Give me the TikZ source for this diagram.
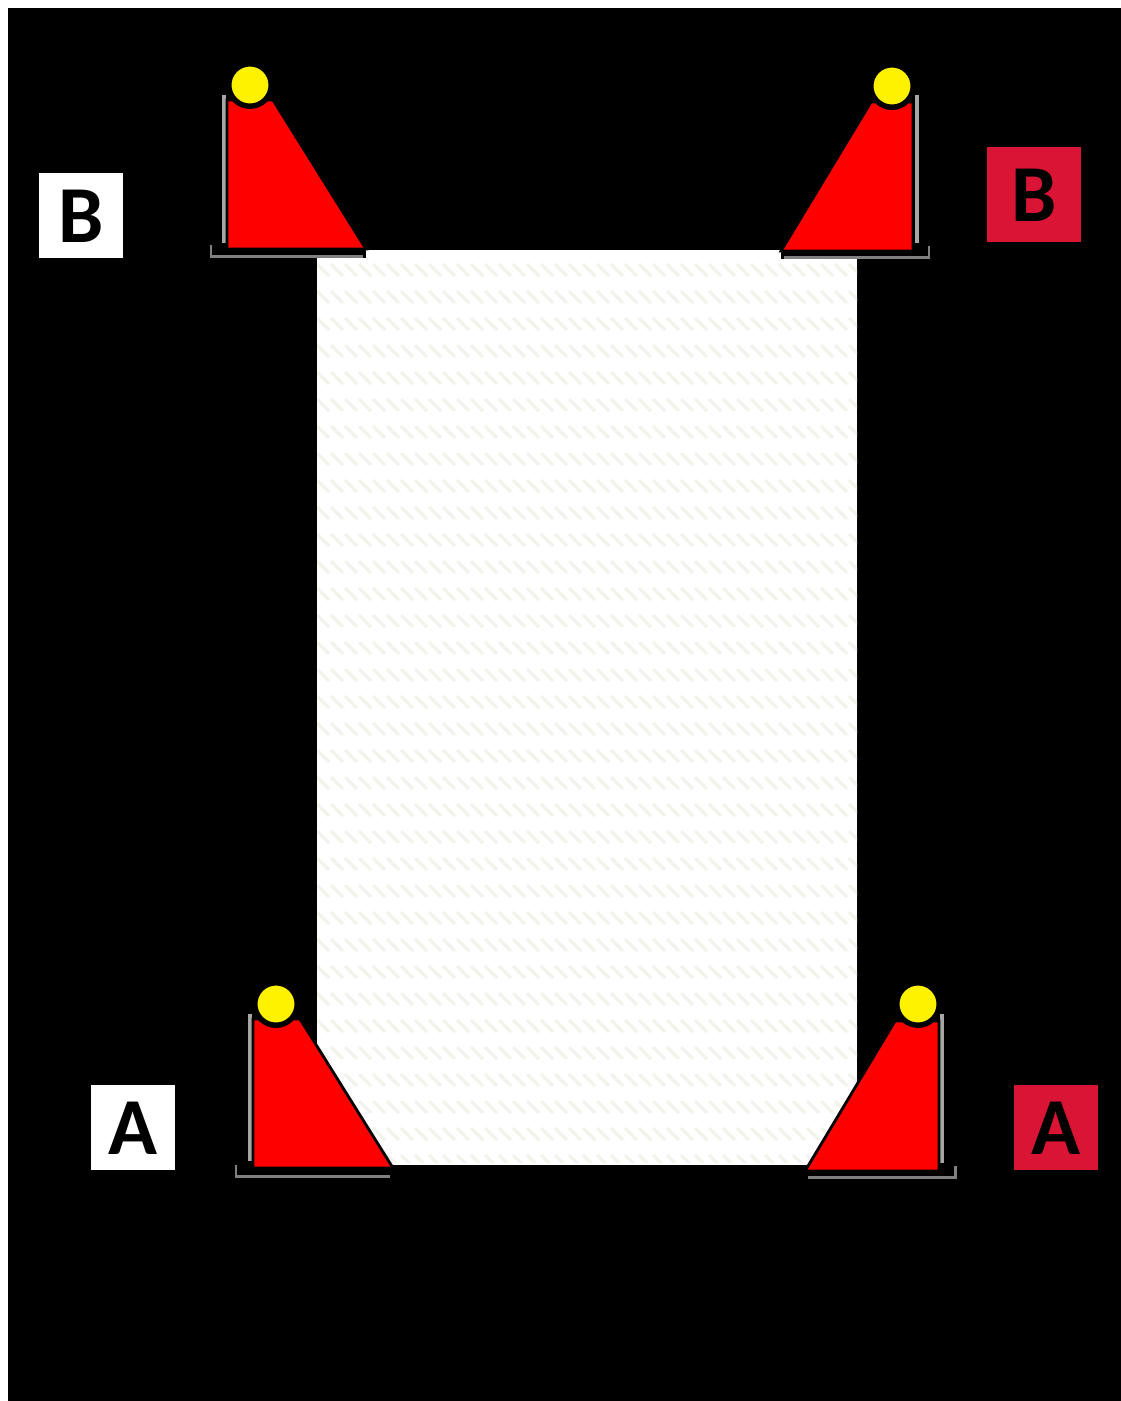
\documentclass[tikz,border=0pt]{standalone}
\usepackage{fontspec}
\setmainfont{Carlito}
\usepackage{xcolor}
\usetikzlibrary{positioning}
\definecolor{tagred}{RGB}{218,20,52}
\definecolor{hatchgray}{RGB}{243,243,238}
\tikzset{
  x=0.02cm, y=-0.02cm,
  tagbox/.style={rectangle, minimum width=1.68cm, minimum height=1.7cm, inner sep=0pt, text height=40pt, text depth=8.2pt, font=\fontsize{46}{46}\selectfont\bfseries, text=black},
  whitetag/.style={tagbox, fill=white},
  redtag/.style={tagbox, fill=tagred},
  wedge/.style={fill=red, draw=black, line width=1.6pt, line join=miter},
  pin/.style={circle, fill=yellow, draw=black, line width=3.1pt, minimum size=0.85cm, inner sep=0pt},
  upright/.style={draw=gray!70, line width=2.2pt},
  baseline/.style={draw=gray, line width=1.7pt},
  hatch/.style={draw=hatchgray, line width=2pt},
}
\begin{document}
\begin{tikzpicture}
  % page
  \useasboundingbox (0,0) rectangle (1121,1401);
  \fill[white] (0,0) rectangle (1121,1401);
  \fill[black] (8,8) rectangle (1121,1401);

  % sheet
  \fill[white] (317,250) rectangle (857,1165);
  \begin{scope}
    \clip (317,250) rectangle (857,1162);
    \foreach \yy in {270,297,...,1165} {
      \foreach \xx in {317,331,...,857} {
        \draw[hatch] (\xx,\yy-6) -- ++(12,12);
      }
    }
  \end{scope}

  % top left
  \fill[black] (317,250) rectangle (366,258);
  \draw[upright] (224,95) -- (224,243);
  \draw[baseline] (211,245) -- (211,256.5) -- (363,256.5);
  \draw[wedge] (227,100) -- (273,100) -- (366,249) -- (227,249) -- cycle;
  \node[pin] (pinB) at (250,85) {};
  \node[whitetag] (tagB) at (81,215) {B};

  % top right
  \fill[black] (781,250) rectangle (857,259);
  \draw[upright] (917,95) -- (917,243);
  \draw[baseline] (784,257.5) -- (929,257.5) -- (929,246);
  \draw[wedge] (871,102) -- (913,102) -- (913,251) -- (781,251) -- cycle;
  \node[pin] (pinBr) at (892,86) {};
  \node[redtag, minimum width=1.88cm, minimum height=1.9cm] (tagBr) at (1034,194) {B};

  % bottom left
  \draw[upright] (250,1014) -- (250,1161);
  \draw[baseline] (236,1165) -- (236,1176) -- (390,1176);
  \draw[wedge] (253,1019) -- (300,1019) -- (393,1168) -- (253,1168) -- cycle;
  \node[pin] (pinA) at (276,1004) {};
  \node[whitetag] (tagA) at (133,1127) {A};

  % bottom right
  \draw[upright] (942,1014) -- (942,1163);
  \draw[baseline] (808,1177.5) -- (955,1177.5) -- (955,1166);
  \draw[wedge] (895,1021) -- (939,1021) -- (939,1171) -- (805,1171) -- cycle;
  \node[pin] (pinAr) at (918,1004) {};
  \node[redtag] (tagAr) at (1056,1127) {A};
\end{tikzpicture}
\end{document}
